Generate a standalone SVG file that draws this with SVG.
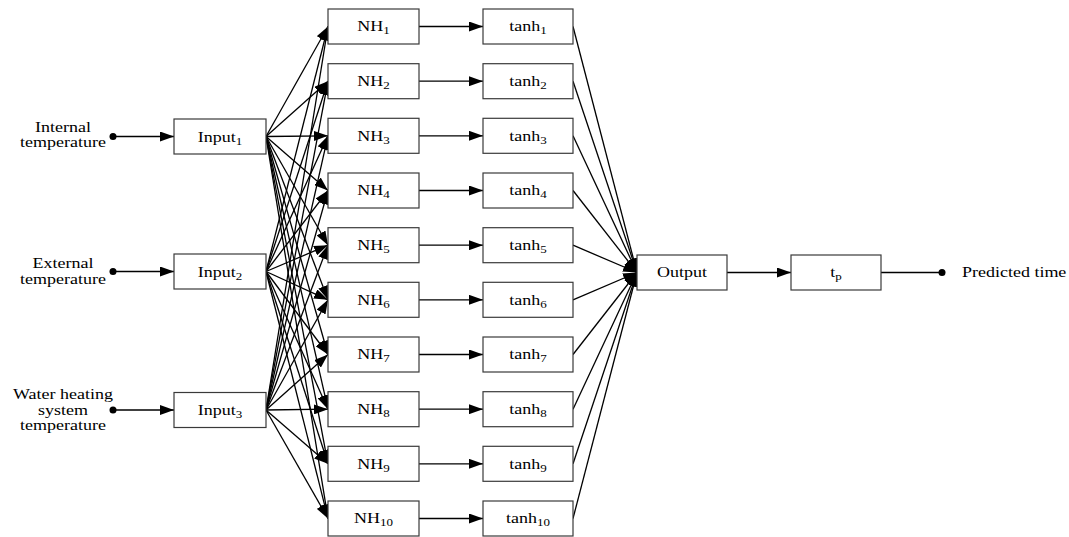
<svg xmlns="http://www.w3.org/2000/svg" width="1069" height="537" viewBox="0 0 1069 537">
<style>
.box{fill:#fff;stroke:#3a3a3a;stroke-width:1.2}
.t{font-family:"Liberation Serif","Times New Roman",serif;font-size:18px;fill:#000;text-anchor:middle}
.lbl{font-family:"Liberation Serif","Times New Roman",serif;font-size:18px;fill:#000;text-anchor:middle}
.st{text-anchor:start}
.s{font-size:13px}
#connectors line{stroke:#000;stroke-width:1.3}
.a{marker-end:url(#arr)}
</style>
<defs>
<marker id="arr" markerUnits="userSpaceOnUse" markerWidth="14" markerHeight="10" viewBox="0 0 14 10" refX="14" refY="5" orient="auto">
<path d="M0,0 L14,5 L0,10 z" fill="#000"/>
</marker>
</defs>
<rect width="1069" height="537" fill="#fff"/>
<g id="connectors">
<line class="a" x1="113" y1="136.5" x2="174" y2="136.5"/>
<line class="a" x1="113" y1="271.5" x2="174" y2="271.5"/>
<line class="a" x1="113" y1="410" x2="174" y2="410"/>
<line class="a" x1="266" y1="136.5" x2="328" y2="26.5"/>
<line class="a" x1="266" y1="136.5" x2="328" y2="81.2"/>
<line class="a" x1="266" y1="136.5" x2="328" y2="135.8"/>
<line class="a" x1="266" y1="136.5" x2="328" y2="190.5"/>
<line class="a" x1="266" y1="136.5" x2="328" y2="245.2"/>
<line class="a" x1="266" y1="136.5" x2="328" y2="299.8"/>
<line class="a" x1="266" y1="136.5" x2="328" y2="354.5"/>
<line class="a" x1="266" y1="136.5" x2="328" y2="409.2"/>
<line class="a" x1="266" y1="136.5" x2="328" y2="463.8"/>
<line class="a" x1="266" y1="136.5" x2="328" y2="518.5"/>
<line class="a" x1="266" y1="271.5" x2="328" y2="26.5"/>
<line class="a" x1="266" y1="271.5" x2="328" y2="81.2"/>
<line class="a" x1="266" y1="271.5" x2="328" y2="135.8"/>
<line class="a" x1="266" y1="271.5" x2="328" y2="190.5"/>
<line class="a" x1="266" y1="271.5" x2="328" y2="245.2"/>
<line class="a" x1="266" y1="271.5" x2="328" y2="299.8"/>
<line class="a" x1="266" y1="271.5" x2="328" y2="354.5"/>
<line class="a" x1="266" y1="271.5" x2="328" y2="409.2"/>
<line class="a" x1="266" y1="271.5" x2="328" y2="463.8"/>
<line class="a" x1="266" y1="271.5" x2="328" y2="518.5"/>
<line class="a" x1="266" y1="410" x2="328" y2="26.5"/>
<line class="a" x1="266" y1="410" x2="328" y2="81.2"/>
<line class="a" x1="266" y1="410" x2="328" y2="135.8"/>
<line class="a" x1="266" y1="410" x2="328" y2="190.5"/>
<line class="a" x1="266" y1="410" x2="328" y2="245.2"/>
<line class="a" x1="266" y1="410" x2="328" y2="299.8"/>
<line class="a" x1="266" y1="410" x2="328" y2="354.5"/>
<line class="a" x1="266" y1="410" x2="328" y2="409.2"/>
<line class="a" x1="266" y1="410" x2="328" y2="463.8"/>
<line class="a" x1="266" y1="410" x2="328" y2="518.5"/>
<line class="a" x1="419" y1="26.5" x2="483" y2="26.5"/>
<line class="a" x1="419" y1="81.2" x2="483" y2="81.2"/>
<line class="a" x1="419" y1="135.8" x2="483" y2="135.8"/>
<line class="a" x1="419" y1="190.5" x2="483" y2="190.5"/>
<line class="a" x1="419" y1="245.2" x2="483" y2="245.2"/>
<line class="a" x1="419" y1="299.8" x2="483" y2="299.8"/>
<line class="a" x1="419" y1="354.5" x2="483" y2="354.5"/>
<line class="a" x1="419" y1="409.2" x2="483" y2="409.2"/>
<line class="a" x1="419" y1="463.8" x2="483" y2="463.8"/>
<line class="a" x1="419" y1="518.5" x2="483" y2="518.5"/>
<line class="a" x1="573" y1="26.5" x2="637" y2="272.5"/>
<line class="a" x1="573" y1="81.2" x2="637" y2="272.5"/>
<line class="a" x1="573" y1="135.8" x2="637" y2="272.5"/>
<line class="a" x1="573" y1="190.5" x2="637" y2="272.5"/>
<line class="a" x1="573" y1="245.2" x2="637" y2="272.5"/>
<line class="a" x1="573" y1="299.8" x2="637" y2="272.5"/>
<line class="a" x1="573" y1="354.5" x2="637" y2="272.5"/>
<line class="a" x1="573" y1="409.2" x2="637" y2="272.5"/>
<line class="a" x1="573" y1="463.8" x2="637" y2="272.5"/>
<line class="a" x1="573" y1="518.5" x2="637" y2="272.5"/>
<line class="a" x1="727" y1="272.5" x2="791" y2="272.5"/>
<line x1="881" y1="272.5" x2="941" y2="272.5"/>
<circle cx="113" cy="136.5" r="3.5" fill="#000"/>
<circle cx="113" cy="271.5" r="3.5" fill="#000"/>
<circle cx="113" cy="410" r="3.5" fill="#000"/>
<circle cx="942" cy="272.5" r="3.5" fill="#000"/>
</g>
<g id="label-internal">
<text class="lbl" transform="translate(63,132) scale(1,0.8)">Internal</text>
<text class="lbl" transform="translate(63,147) scale(1,0.8)">temperature</text>
</g>
<g id="label-external">
<text class="lbl" transform="translate(63,268) scale(1,0.8)">External</text>
<text class="lbl" transform="translate(63,283.5) scale(1,0.8)">temperature</text>
</g>
<g id="label-water">
<text class="lbl" transform="translate(63,399) scale(1,0.8)">Water heating</text>
<text class="lbl" transform="translate(63,414.5) scale(1,0.8)">system</text>
<text class="lbl" transform="translate(63,430) scale(1,0.8)">temperature</text>
</g>
<g id="label-predicted"><text class="lbl st" transform="translate(962,277) scale(1,0.8)">Predicted time</text></g>
<g id="input1"><rect class="box" x="174" y="119" width="92" height="35"/><text class="t" transform="translate(220,141.5) scale(1,0.8)">Input<tspan class="s" dy="4">1</tspan></text></g>
<g id="input2"><rect class="box" x="174" y="254" width="92" height="35"/><text class="t" transform="translate(220,276.5) scale(1,0.8)">Input<tspan class="s" dy="4">2</tspan></text></g>
<g id="input3"><rect class="box" x="174" y="392.5" width="92" height="35"/><text class="t" transform="translate(220,415) scale(1,0.8)">Input<tspan class="s" dy="4">3</tspan></text></g>
<g id="nh1"><rect class="box" x="328" y="9" width="91" height="35"/><text class="t" transform="translate(373.5,31.2) scale(1,0.8)">NH<tspan class="s" dy="4">1</tspan></text></g>
<g id="nh2"><rect class="box" x="328" y="63.7" width="91" height="35"/><text class="t" transform="translate(373.5,85.9) scale(1,0.8)">NH<tspan class="s" dy="4">2</tspan></text></g>
<g id="nh3"><rect class="box" x="328" y="118.3" width="91" height="35"/><text class="t" transform="translate(373.5,140.5) scale(1,0.8)">NH<tspan class="s" dy="4">3</tspan></text></g>
<g id="nh4"><rect class="box" x="328" y="173" width="91" height="35"/><text class="t" transform="translate(373.5,195.2) scale(1,0.8)">NH<tspan class="s" dy="4">4</tspan></text></g>
<g id="nh5"><rect class="box" x="328" y="227.7" width="91" height="35"/><text class="t" transform="translate(373.5,249.9) scale(1,0.8)">NH<tspan class="s" dy="4">5</tspan></text></g>
<g id="nh6"><rect class="box" x="328" y="282.3" width="91" height="35"/><text class="t" transform="translate(373.5,304.5) scale(1,0.8)">NH<tspan class="s" dy="4">6</tspan></text></g>
<g id="nh7"><rect class="box" x="328" y="337" width="91" height="35"/><text class="t" transform="translate(373.5,359.2) scale(1,0.8)">NH<tspan class="s" dy="4">7</tspan></text></g>
<g id="nh8"><rect class="box" x="328" y="391.7" width="91" height="35"/><text class="t" transform="translate(373.5,413.9) scale(1,0.8)">NH<tspan class="s" dy="4">8</tspan></text></g>
<g id="nh9"><rect class="box" x="328" y="446.3" width="91" height="35"/><text class="t" transform="translate(373.5,468.5) scale(1,0.8)">NH<tspan class="s" dy="4">9</tspan></text></g>
<g id="nh10"><rect class="box" x="328" y="501" width="91" height="35"/><text class="t" transform="translate(373.5,523.2) scale(1,0.8)">NH<tspan class="s" dy="4">10</tspan></text></g>
<g id="tanh1"><rect class="box" x="483" y="9" width="90" height="35"/><text class="t" transform="translate(528,31.2) scale(1,0.8)">tanh<tspan class="s" dy="4">1</tspan></text></g>
<g id="tanh2"><rect class="box" x="483" y="63.7" width="90" height="35"/><text class="t" transform="translate(528,85.9) scale(1,0.8)">tanh<tspan class="s" dy="4">2</tspan></text></g>
<g id="tanh3"><rect class="box" x="483" y="118.3" width="90" height="35"/><text class="t" transform="translate(528,140.5) scale(1,0.8)">tanh<tspan class="s" dy="4">3</tspan></text></g>
<g id="tanh4"><rect class="box" x="483" y="173" width="90" height="35"/><text class="t" transform="translate(528,195.2) scale(1,0.8)">tanh<tspan class="s" dy="4">4</tspan></text></g>
<g id="tanh5"><rect class="box" x="483" y="227.7" width="90" height="35"/><text class="t" transform="translate(528,249.9) scale(1,0.8)">tanh<tspan class="s" dy="4">5</tspan></text></g>
<g id="tanh6"><rect class="box" x="483" y="282.3" width="90" height="35"/><text class="t" transform="translate(528,304.5) scale(1,0.8)">tanh<tspan class="s" dy="4">6</tspan></text></g>
<g id="tanh7"><rect class="box" x="483" y="337" width="90" height="35"/><text class="t" transform="translate(528,359.2) scale(1,0.8)">tanh<tspan class="s" dy="4">7</tspan></text></g>
<g id="tanh8"><rect class="box" x="483" y="391.7" width="90" height="35"/><text class="t" transform="translate(528,413.9) scale(1,0.8)">tanh<tspan class="s" dy="4">8</tspan></text></g>
<g id="tanh9"><rect class="box" x="483" y="446.3" width="90" height="35"/><text class="t" transform="translate(528,468.5) scale(1,0.8)">tanh<tspan class="s" dy="4">9</tspan></text></g>
<g id="tanh10"><rect class="box" x="483" y="501" width="90" height="35"/><text class="t" transform="translate(528,523.2) scale(1,0.8)">tanh<tspan class="s" dy="4">10</tspan></text></g>
<g id="output"><rect class="box" x="637" y="255" width="90" height="35"/><text class="t" transform="translate(682,277.2) scale(1,0.8)">Output</text></g>
<g id="tp"><rect class="box" x="791" y="255" width="90" height="35"/><text class="t" transform="translate(836,277.2) scale(1,0.8)">t<tspan class="s" dy="4">p</tspan></text></g>
</svg>
